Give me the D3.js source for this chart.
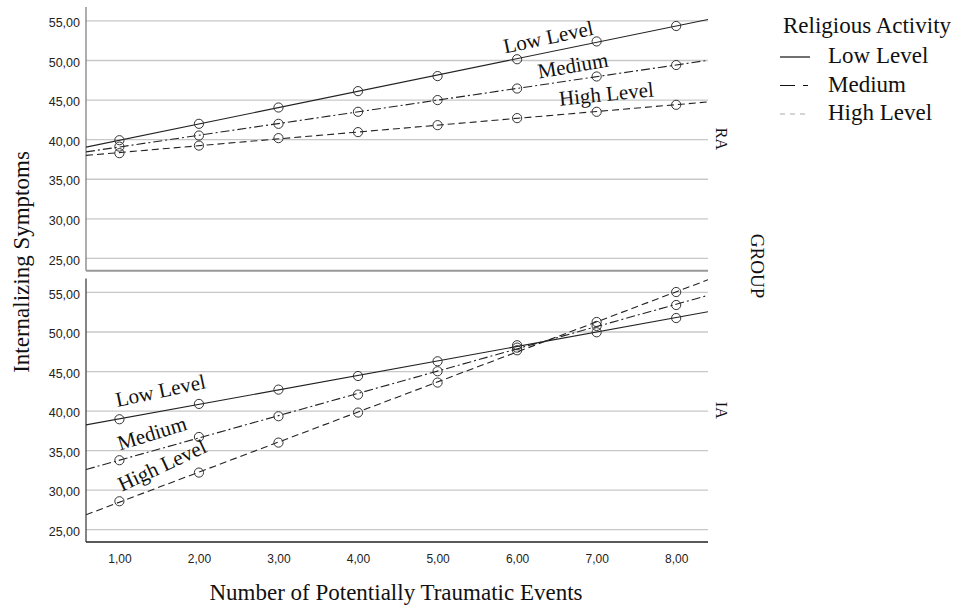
<!DOCTYPE html>
<html>
<head>
<meta charset="utf-8">
<script src="https://cdn.jsdelivr.net/npm/d3@7"></script>
<style>
  body { margin: 0; background: #fff; }
  svg { display: block; }
</style>
</head>
<body>
<div id="chart"></div>
<script>
// Values
const events = [1, 2, 3, 4, 5, 6, 7, 8];
const levels = ["Low Level", "Medium", "High Level"];
const groups = ["RA", "IA"];
const yTicks = [25, 30, 35, 40, 45, 50, 55];

const raLow = [39.87, 41.94, 44.0, 46.07, 47.97, 50.1, 52.35, 54.3];
const raMedium = [39.06, 40.46, 41.94, 43.46, 44.94, 46.4, 47.92, 49.37];
const raHigh = [38.23, 39.19, 40.13, 40.89, 41.77, 42.66, 43.46, 44.34];

const iaLow = [38.9, 40.84, 42.65, 44.37, 46.23, 48.26, 49.9, 51.7];
const iaMedium = [33.72, 36.66, 39.28, 42.02, 44.97, 47.96, 50.7, 53.35];
const iaHigh = [28.53, 32.16, 35.95, 39.75, 43.54, 47.62, 51.2, 54.99];

const groupSeries = {
    RA: [raLow, raMedium, raHigh],
    IA: [iaLow, iaMedium, iaHigh]
};

// Line styles per level
const dashes = [null, "9,3,2,3", "7,4"];
const legendColors = ["#111", "#111", "#aaa"];

// In-plot line labels: [x value, y value, rotation]
const labelSpots = {
    RA: [[6.41, 52.02, -12], [6.715, 48.42, -9.7], [7.13, 44.82, -5.7]],
    IA: [[1.535, 41.65, -12], [1.435, 36.28, -17], [1.573, 32.27, -25]]
};

const serif = "'Liberation Serif', 'Times New Roman', serif";
const sans = "'Liberation Sans', Arial, sans-serif";

const W = 957, H = 608;
const plotLeft = 86, plotRight = 708;
const panels = [
    { key: "RA", top: 7, bottom: 270.7 },
    { key: "IA", top: 278.5, bottom: 542 }
];

const locale = d3.formatLocale({ decimal: ",", thousands: ".", grouping: [3], currency: ["", ""] });
const fmt = locale.format(".2f");

const svg = d3.select("#chart")
    .append("svg")
    .attr("width", W)
    .attr("height", H);

const xScale = d3.scaleLinear()
    .domain([0.58, 8.4])
    .range([plotLeft, plotRight]);

// Least squares fit for each series
function fitLine(values) {
    const mx = d3.mean(events), my = d3.mean(values);
    let num = 0, den = 0;
    events.forEach((e, i) => {
        num += (e - mx) * (values[i] - my);
        den += (e - mx) * (e - mx);
    });
    const slope = num / den;
    return x => my + slope * (x - mx);
}

panels.forEach((p, pi) => {
    const yScale = d3.scaleLinear()
        .domain([23.38, 56.7])
        .range([p.bottom, p.top]);

    const g = svg.append("g");

    // Gridlines + y labels
    const yAxis = g.append("g")
        .attr("transform", `translate(${plotLeft},0)`)
        .call(d3.axisLeft(yScale).tickValues(yTicks).tickFormat(fmt)
            .tickSize(-(plotRight - plotLeft)).tickPadding(6));
    yAxis.select(".domain").remove();
    yAxis.selectAll(".tick line")
        .attr("stroke", "#c8c8c8")
        .attr("stroke-width", 1.3);
    yAxis.selectAll(".tick text")
        .attr("dy", "0.5em")
        .attr("fill", "#222")
        .style("font-family", sans)
        .style("font-size", "12.5px");

    // Panel frame lines
    g.append("line")
        .attr("x1", plotLeft).attr("x2", plotLeft)
        .attr("y1", p.top).attr("y2", p.bottom)
        .attr("stroke", pi === 0 ? "#777" : "#333")
        .attr("stroke-width", 1.2);
    g.append("line")
        .attr("x1", plotLeft).attr("x2", plotRight)
        .attr("y1", p.bottom).attr("y2", p.bottom)
        .attr("stroke", pi === 0 ? "#999" : "#222")
        .attr("stroke-width", pi === 0 ? 2 : 1.3);

    // clip
    const clipId = "clip" + pi;
    svg.append("clipPath").attr("id", clipId)
        .append("rect")
        .attr("x", plotLeft).attr("y", p.top)
        .attr("width", plotRight - plotLeft).attr("height", p.bottom - p.top);

    const marks = g.append("g").attr("clip-path", `url(#${clipId})`);

    groupSeries[p.key].forEach((vals, li) => {
        const f = fitLine(vals);
        const ends = xScale.domain();
        marks.append("line")
            .attr("x1", xScale(ends[0])).attr("y1", yScale(f(ends[0])))
            .attr("x2", xScale(ends[1])).attr("y2", yScale(f(ends[1])))
            .attr("stroke", "#222")
            .attr("stroke-width", 1.1)
            .attr("stroke-dasharray", dashes[li]);

        marks.selectAll(null)
            .data(events.map((e, i) => ({ e, v: vals[i] })))
            .enter()
            .append("circle")
            .attr("cx", d => xScale(d.e))
            .attr("cy", d => yScale(d.v))
            .attr("r", 4.6)
            .attr("fill", "none")
            .attr("stroke", "#333")
            .attr("stroke-width", 1);

        const s = labelSpots[p.key][li];
        g.append("text")
            .attr("transform", `translate(${xScale(s[0])},${yScale(s[1])}) rotate(${s[2]})`)
            .attr("text-anchor", "middle")
            .style("font-family", serif)
            .style("font-size", "21px")
            .attr("fill", "#111")
            .text(levels[li]);
    });

    // Strip label on the right
    svg.append("text")
        .attr("transform", `translate(${716},${(p.top + p.bottom) / 2}) rotate(90)`)
        .attr("text-anchor", "middle")
        .style("font-family", serif)
        .style("font-size", "16px")
        .attr("fill", "#111")
        .text(p.key);

    // X axis labels for the bottom panel
    if (pi === panels.length - 1) {
        const xAxis = g.append("g")
            .attr("transform", `translate(0,${p.bottom})`)
            .call(d3.axisBottom(xScale).tickValues(events).tickFormat(fmt).tickSize(0).tickPadding(12));
        xAxis.select(".domain").remove();
        xAxis.selectAll(".tick text")
            .attr("fill", "#222")
            .style("font-family", sans)
            .style("font-size", "12px");
    }
});

// Axis titles
svg.append("text")
    .attr("x", (plotLeft + plotRight) / 2 - 1)
    .attr("y", 600)
    .attr("text-anchor", "middle")
    .style("font-family", serif)
    .style("font-size", "23px")
    .attr("fill", "#111")
    .text("Number of Potentially Traumatic Events");

svg.append("text")
    .attr("transform", `translate(29,${262}) rotate(-90)`)
    .attr("text-anchor", "middle")
    .style("font-family", serif)
    .style("font-size", "23px")
    .attr("fill", "#111")
    .text("Internalizing Symptoms");

svg.append("text")
    .attr("transform", `translate(751,${266}) rotate(90)`)
    .attr("text-anchor", "middle")
    .style("font-family", serif)
    .style("font-size", "19px")
    .attr("fill", "#111")
    .text("GROUP");

// Legend
const legend = svg.append("g");
legend.append("text")
    .attr("x", 783).attr("y", 33)
    .style("font-family", serif)
    .style("font-size", "23px")
    .attr("fill", "#111")
    .text("Religious Activity");

levels.forEach((lv, i) => {
    const yy = 63 + i * 28.5;
    legend.append("line")
        .attr("x1", 780).attr("x2", 810)
        .attr("y1", yy - 6).attr("y2", yy - 6)
        .attr("stroke", legendColors[i])
        .attr("stroke-width", 1.2)
        .attr("stroke-dasharray", i === 1 ? "15,8,5,8" : i === 2 ? "5,5" : null);
    legend.append("text")
        .attr("x", 828).attr("y", yy)
        .style("font-family", serif)
        .style("font-size", "23px")
        .attr("fill", "#111")
        .text(lv);
});
</script>
</body>
</html>
